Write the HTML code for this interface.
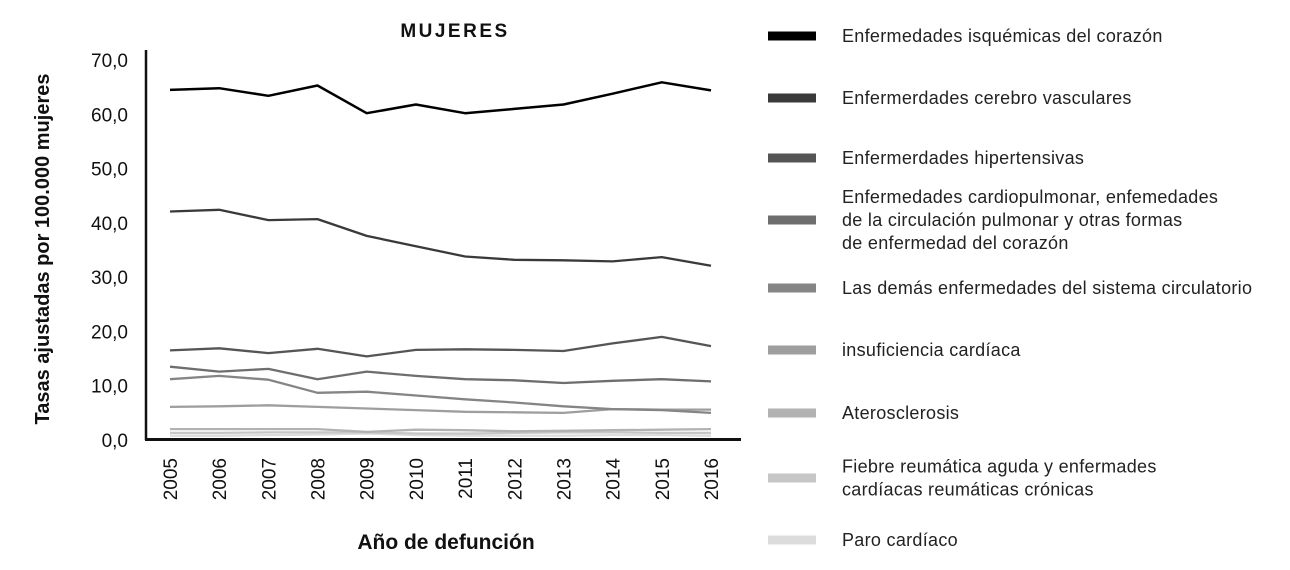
<!DOCTYPE html>
<html><head><meta charset="utf-8">
<style>
body{margin:0;background:#fff;width:1290px;height:570px;overflow:hidden;font-family:"Liberation Sans","DejaVu Sans",sans-serif;}
svg{display:block}
</style></head>
<body>
<svg id="chart" width="1290" height="570" xmlns="http://www.w3.org/2000/svg">
<text x="455" y="37" text-anchor="middle" font-size="19" font-weight="bold" letter-spacing="2.5" fill="#111">MUJERES</text>
<text transform="translate(49,249) rotate(-90)" text-anchor="middle" font-size="20" font-weight="bold" fill="#111">Tasas ajustadas por 100.000 mujeres</text>
<text x="446" y="549" text-anchor="middle" font-size="21" font-weight="bold" fill="#111">Año de defunción</text>
<g id="yticks"></g><g id="xticks"></g><g id="series"></g><g id="legend"></g>
<line x1="146" y1="50" x2="146" y2="440" stroke="#111" stroke-width="2.5"/>
<line x1="145" y1="439.5" x2="741" y2="439.5" stroke="#111" stroke-width="3"/>
</svg>
<script>
const years = ['2005','2006','2007','2008','2009','2010','2011','2012','2013','2014','2015','2016'];
const yTicks = [0,10,20,30,40,50,60,70];
const yTickLabels = ['0,0','10,0','20,0','30,0','40,0','50,0','60,0','70,0'];
const seriesNames = ['Enfermedades isquémicas del corazón','Enfermerdades cerebro vasculares','Enfermerdades hipertensivas','Enfermedades cardiopulmonar, enfemedades|de la circulación pulmonar y otras formas|de enfermedad del corazón','Las demás enfermedades del sistema circulatorio','insuficiencia cardíaca','Aterosclerosis','Fiebre reumática aguda y enfermades|cardíacas reumáticas crónicas','Paro cardíaco'];
const isquemicas = [64.5,64.8,63.4,65.3,60.2,61.8,60.2,61.0,61.8,63.8,65.9,64.4];
const cerebro = [42.1,42.4,40.5,40.7,37.6,35.7,33.8,33.2,33.1,32.9,33.7,32.1];
const hipertensivas = [16.5,16.9,16.0,16.8,15.4,16.6,16.7,16.6,16.4,17.8,19.0,17.3];
const cardiopulmonar = [13.5,12.6,13.1,11.2,12.6,11.8,11.2,11.0,10.5,10.9,11.2,10.8];
const demas = [11.2,11.8,11.1,8.7,8.9,8.2,7.5,6.9,6.2,5.7,5.5,5.0];
const insuficiencia = [6.1,6.2,6.4,6.1,5.8,5.5,5.2,5.1,5.0,5.7,5.6,5.6];
const aterosclerosis = [2.0,2.0,2.0,2.0,1.5,1.9,1.8,1.6,1.7,1.8,1.9,2.0];
const fiebre = [1.3,1.3,1.4,1.4,1.4,1.2,1.2,1.3,1.4,1.4,1.3,1.3];
const paro = [0.8,0.8,0.9,1.0,1.2,0.9,0.8,0.8,0.8,0.9,0.9,0.8];
const allSeries = [isquemicas,cerebro,hipertensivas,cardiopulmonar,demas,insuficiencia,aterosclerosis,fiebre,paro];
const colors = ['#000','#3a3a3a','#555','#6e6e6e','#858585','#9e9e9e','#b2b2b2','#c6c6c6','#dcdcdc'];
const legendY = [36,98,158,220,288,350,413,478,540];
const NS='http://www.w3.org/2000/svg';
const xScale = i => 170 + i*(711-170)/11;
const yScale = v => 440 - v*(440-60)/70;
function mk(tag, attrs, parent){const e=document.createElementNS(NS,tag);for(const k in attrs)e.setAttribute(k,attrs[k]);parent.appendChild(e);return e;}
const yg=document.getElementById('yticks');
yTicks.forEach((v,i)=>{
  const t=mk('text',{x:128,y:yScale(v)+7,'text-anchor':'end','font-size':19,fill:'#111'},yg);
  t.textContent=yTickLabels[i];
  
  
});
const xg=document.getElementById('xticks');
years.forEach((y,i)=>{
  const t=mk('text',{transform:`translate(${xScale(i)+7},458) rotate(-90)`,'text-anchor':'end','font-size':19,fill:'#111'},xg);
  t.textContent=y;
  
  
});
const sg=document.getElementById('series');
for(let s=allSeries.length-1;s>=0;s--){
  const pts=allSeries[s].map((v,i)=>xScale(i).toFixed(1)+','+yScale(v).toFixed(1)).join(' ');
  const p=mk('polyline',{points:pts,fill:'none',stroke:colors[s],'stroke-width':s===0?2.5:2.3,'stroke-linejoin':'round'},sg);
  
  
}
const lg=document.getElementById('legend');
seriesNames.forEach((n,i)=>{
  const g=mk('g',{},lg);
  
  
  const r=mk('rect',{x:768,y:legendY[i]-4.5,width:48,height:9,fill:colors[i]},g);
  
  
  const lines=n.split('|');
  const y0=legendY[i]+6-(lines.length-1)*11.5;
  lines.forEach((l,j)=>{
    const t=mk('text',{x:842,y:y0+j*23,'font-size':18,'letter-spacing':0.3,fill:'#222'},g);
    t.textContent=l;
    
    
  });
});
</script>
</body></html>
